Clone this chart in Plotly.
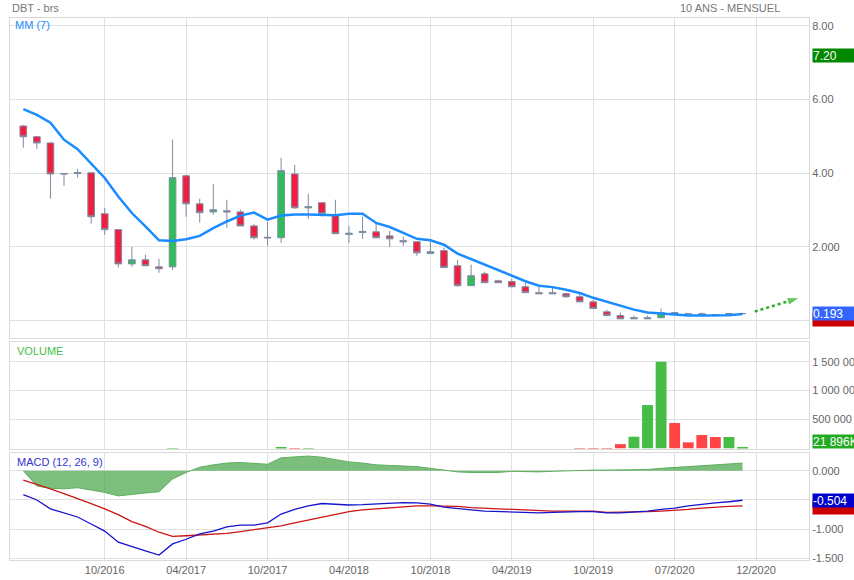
import plotly.graph_objects as go

# ---------------- data ----------------
idx = list(range(54))
open_ = [5.28, 4.99, 4.82, 3.99, 3.99, 4.01, 2.90, 2.47, 1.54, 1.65,
         1.46, 1.46, 3.93, 3.17, 2.95, 2.98, 2.95, 2.57, 2.24, 2.25,
         3.98, 3.06, 3.20, 2.85, 2.34, 2.39, 2.41, 2.30, 2.17, 2.14,
         1.82, 1.90, 1.49, 0.95, 1.27, 1.08, 1.06, 0.92, 0.76, 0.76,
         0.73, 0.65, 0.51, 0.24, 0.14, 0.05, 0.05, 0.08, 0.22, 0.19,
         0.19, 0.16, 0.16, 0.19]
high = [5.31, 5.01, 4.85, 3.99, 4.12, 4.01, 3.06, 2.47, 2.00, 1.79,
        1.68, 4.91, 3.96, 3.31, 3.71, 3.28, 3.01, 2.63, 2.68, 4.42,
        4.23, 3.44, 3.20, 3.28, 2.57, 2.82, 2.66, 2.44, 2.28, 2.14,
        2.14, 1.98, 1.65, 1.52, 1.33, 1.11, 1.14, 1.03, 0.92, 0.92,
        0.76, 0.76, 0.57, 0.30, 0.22, 0.14, 0.14, 0.33, 0.24, 0.20,
        0.22, 0.17, 0.20, 0.20]
low = [4.69, 4.66, 3.31, 3.66, 3.88, 2.63, 2.33, 1.44, 1.46, 1.49,
       1.30, 1.38, 2.82, 2.66, 2.87, 2.52, 2.57, 2.20, 2.03, 2.11,
       3.04, 2.76, 2.82, 2.36, 2.11, 2.22, 2.25, 2.00, 2.03, 1.76,
       1.82, 1.44, 0.92, 0.95, 1.03, 1.03, 0.92, 0.76, 0.73, 0.73,
       0.62, 0.51, 0.33, 0.14, 0.05, 0.05, 0.05, 0.08, 0.19, 0.18,
       0.16, 0.15, 0.16, 0.19]
close = [4.99, 4.82, 3.98, 3.98, 4.02, 2.82, 2.47, 1.54, 1.65, 1.49,
         1.41, 3.88, 3.17, 2.93, 3.01, 2.95, 2.57, 2.25, 2.26, 4.07,
         3.06, 3.09, 2.90, 2.36, 2.37, 2.42, 2.25, 2.22, 2.14, 1.84,
         1.87, 1.44, 0.95, 1.22, 1.03, 1.03, 0.92, 0.76, 0.73, 0.73,
         0.65, 0.51, 0.33, 0.14, 0.05, 0.08, 0.08, 0.22, 0.19, 0.19,
         0.16, 0.16, 0.19, 0.193]
ma7 = [5.74, 5.58, 5.37, 4.91, 4.65, 4.27, 3.87, 3.37, 2.92, 2.56,
       2.18, 2.16, 2.21, 2.30, 2.51, 2.69, 2.85, 2.93, 2.74, 2.85,
       2.88, 2.88, 2.87, 2.86, 2.90, 2.90, 2.65, 2.54, 2.38, 2.22,
       2.18, 2.06, 1.82, 1.67, 1.52, 1.36, 1.22, 1.07, 0.95, 0.91,
       0.84, 0.75, 0.62, 0.51, 0.39, 0.30, 0.22, 0.19, 0.16, 0.14,
       0.14, 0.14, 0.15, 0.18]
volume = [0, 0, 0, 0, 0, 0, 0, 0, 0, 0,
          0, 8000, 0, 0, 0, 0, 0, 0, 0, 9000,
          8000, 8000, 0, 0, 0, 0, 0, 0, 0, 0,
          0, 0, 0, 0, 0, 0, 0, 0, 0, 0,
          0, 6000, 6000, 6000, 75000, 204000, 751000, 1498000, 440000, 107000,
          233000, 199000, 199000, 21896]
macd = [-0.41, -0.50, -0.65, -0.72, -0.79, -0.91, -1.03, -1.22, -1.30, -1.37,
        -1.44, -1.25, -1.17, -1.08, -1.03, -0.96, -0.93, -0.93, -0.89, -0.74,
        -0.66, -0.60, -0.56, -0.57, -0.585, -0.58, -0.57, -0.56, -0.545, -0.55,
        -0.57, -0.62, -0.65, -0.67, -0.69, -0.70, -0.71, -0.72, -0.72, -0.71,
        -0.70, -0.70, -0.70, -0.72, -0.72, -0.71, -0.69, -0.66, -0.64, -0.60,
        -0.57, -0.55, -0.53, -0.504]
signal = [-0.16, -0.23, -0.31, -0.39, -0.47, -0.56, -0.65, -0.75, -0.87, -0.95,
          -1.05, -1.12, -1.11, -1.10, -1.09, -1.07, -1.04, -1.01, -0.98, -0.94,
          -0.89, -0.84, -0.80, -0.75, -0.70, -0.67, -0.65, -0.63, -0.61, -0.60,
          -0.60, -0.60, -0.61, -0.63, -0.64, -0.66, -0.67, -0.68, -0.69, -0.69,
          -0.69, -0.69, -0.69, -0.71, -0.71, -0.71, -0.70, -0.69, -0.68, -0.66,
          -0.64, -0.62, -0.61, -0.60]
hist = [0.0, -0.26, -0.30, -0.31, -0.29, -0.33, -0.37, -0.43, -0.40, -0.38,
        -0.36, -0.14, -0.03, 0.06, 0.10, 0.13, 0.14, 0.13, 0.11, 0.22,
        0.24, 0.25, 0.23, 0.19, 0.15, 0.13, 0.10, 0.09, 0.085, 0.07,
        0.04, 0.01, -0.02, -0.03, -0.03, -0.03, -0.01, -0.02, -0.02, -0.01,
        0.0, 0.01, 0.01, 0.01, 0.01, 0.01, 0.02, 0.04, 0.06, 0.07,
        0.085, 0.10, 0.11, 0.13]
tick_pos = [6, 12, 18, 24, 30, 36, 42, 48, 54]
tick_labels = ["10/2016", "04/2017", "10/2017", "04/2018", "10/2018",
               "04/2019", "10/2019", "07/2020", "12/2020"]
forecast_x = [53.9, 57.2]
forecast_y = [0.25, 0.62]

# ---------------- figure ----------------
FONT = "Liberation Sans, Arial, sans-serif"
GRID = "#e0e0e0"
WICK = "#7d8ca3"

fig = go.Figure()

fig.add_trace(go.Candlestick(
    x=idx, open=open_, high=high, low=low, close=close,
    increasing=dict(fillcolor="#2dbe55", line=dict(color=WICK, width=1)),
    decreasing=dict(fillcolor="#f21e40", line=dict(color=WICK, width=1)),
    whiskerwidth=0, xaxis="x", yaxis="y", showlegend=False, hoverinfo="skip"))

fig.add_trace(go.Scatter(
    x=idx, y=ma7, mode="lines", line=dict(color="#1a8cff", width=2.5),
    xaxis="x", yaxis="y", showlegend=False, hoverinfo="skip"))

fig.add_trace(go.Scatter(
    x=forecast_x, y=forecast_y, mode="lines+markers",
    line=dict(color="#22b022", width=2.5, dash="dot"),
    marker=dict(symbol="arrow", size=[0, 13], color="#22b022", angleref="previous"),
    xaxis="x", yaxis="y", showlegend=False, hoverinfo="skip", cliponaxis=False))

vol_colors = ["#3dbb3d" if c > o else "#ff3b3b" for o, c in zip(open_, close)]
fig.add_trace(go.Bar(
    x=idx, y=volume, marker=dict(color=vol_colors, line=dict(width=0)),
    opacity=0.95, width=0.8, xaxis="x2", yaxis="y2", showlegend=False, hoverinfo="skip"))

fig.add_trace(go.Scatter(
    x=idx, y=hist, mode="lines", fill="tozeroy",
    line=dict(color="#5fae5f", width=1), fillcolor="rgba(80,170,80,0.75)",
    xaxis="x3", yaxis="y3", showlegend=False, hoverinfo="skip"))
fig.add_trace(go.Scatter(
    x=idx, y=signal, mode="lines", line=dict(color="#cc1414", width=1.3),
    xaxis="x3", yaxis="y3", showlegend=False, hoverinfo="skip"))
fig.add_trace(go.Scatter(
    x=idx, y=macd, mode="lines", line=dict(color="#1414cc", width=1.3),
    xaxis="x3", yaxis="y3", showlegend=False, hoverinfo="skip"))

XR = [-0.98, 57.9]
xcommon = dict(range=XR, tickvals=tick_pos, ticktext=tick_labels, showgrid=True,
               gridcolor=GRID, gridwidth=1, showline=True, mirror=True,
               linecolor="#d9d9d9", zeroline=False, ticks="", fixedrange=True,
               automargin=False)
ycommon = dict(side="right", showgrid=True, gridcolor=GRID, showline=True, mirror=True,
               linecolor="#d9d9d9", zeroline=False, ticks="", automargin=False,
               fixedrange=True, tickfont=dict(size=11, color="#666", family=FONT))

fig.update_layout(
    width=854, height=580,
    margin=dict(l=10, r=45, t=18, b=20, autoexpand=False),
    paper_bgcolor="white", plot_bgcolor="white",
    font=dict(family=FONT, size=11, color="#666"),
    xaxis=dict(**xcommon, anchor="y", showticklabels=False, rangeslider=dict(visible=False)),
    xaxis2=dict(**xcommon, anchor="y2", showticklabels=False),
    xaxis3=dict(**xcommon, anchor="y3", showticklabels=True,
                tickfont=dict(size=11, color="#666", family=FONT)),
    yaxis=dict(**ycommon, domain=[0.4096, 1.0], range=[-0.47, 8.21],
               tickvals=[0, 2, 4, 6, 8], ticktext=["", "2.000", "4.00", "6.00", "8.00"]),
    yaxis2=dict(**ycommon, domain=[0.2057, 0.4022], range=[0, 1.84e6],
                tickvals=[0, 5e5, 1e6, 1.5e6], ticktext=["", "500 000", "1 000 000", "1 500 000"]),
    yaxis3=dict(**ycommon, domain=[0.0, 0.1974], range=[-1.524, 0.302],
                tickvals=[0, -0.5, -1.0, -1.5], ticktext=["0.000", "", "-1.000", "-1.500"]),
    bargap=0.2,
)

def box(text, yref, y, bg, yanchor="middle"):
    return dict(text=text, xref="paper", x=1, xanchor="left", xshift=3,
                yref=yref, y=y, yanchor=yanchor, showarrow=False,
                bgcolor=bg, font=dict(color="white", size=12, family=FONT),
                width=46, height=13, align="left", borderpad=0)

def label(text, x, y, color, xanchor="left", size=11):
    return dict(text=text, xref="paper", yref="paper", x=x, y=y, xanchor=xanchor,
                yanchor="middle", showarrow=False, font=dict(color=color, size=size, family=FONT))

fig.update_layout(annotations=[
    label("DBT - brs", 0.0, (560 - 8) / 542, "#777"),
    label("10 ANS - MENSUEL", (782 - 10) / 799, (560 - 8) / 542, "#777", xanchor="right"),
    label("MM (7)", 0.004, (560 - 25) / 542, "#1a8cff"),
    label("VOLUME", 0.006, (560 - 351) / 542, "#44c044"),
    label("MACD (12, 26, 9)", 0.006, (560 - 462) / 542, "#3333cc"),
    box("7.20", "y", 7.20, "#008800"),
    box(" ", "y", 0.03, "#cc0000"),
    box("0.193", "y", 0.19, "#3366ff"),
    box("21 896K", "y2", 0, "#22aa22", yanchor="bottom"),
    box(" ", "y3", -0.62, "#cc0000"),
    box("-0.504", "y3", -0.504, "#0000cc"),
])

fig.write_html("out.html", config={"displayModeBar": False},
               post_script="document.body.style.margin='0';document.body.style.overflow='hidden';")
